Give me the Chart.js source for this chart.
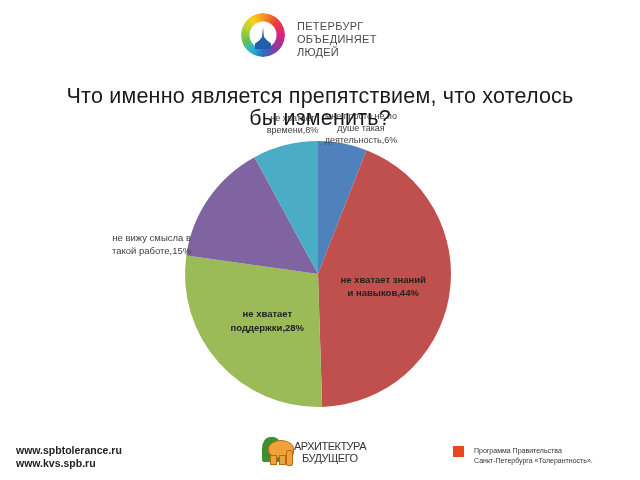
<!DOCTYPE html>
<html lang="ru">
<head>
<meta charset="UTF-8">
<title>Что именно является препятствием</title>
<script src="https://cdn.jsdelivr.net/npm/chart.js"></script>
<style>
  html, body { margin: 0; padding: 0; background: #fff; }
  body {
    width: 640px; height: 480px; position: relative; overflow: hidden;
    font-family: "Liberation Sans", Arial, sans-serif;
  }
  #wrap { position: absolute; left: 0; top: 0; width: 640px; height: 480px; }
  .title {
    position: absolute; left: 0; width: 640px; text-align: center;
    font-size: 21.5px; line-height: 21.5px; letter-spacing: 0.2px;
    color: #1a1a1a; white-space: nowrap; z-index: 2;
  }
  /* top logo */
  .ring {
    position: absolute; left: 241px; top: 13px; width: 44px; height: 44px; border-radius: 50%;
    background: conic-gradient(#f39a1f 0deg, #e8423a 45deg, #d8237e 90deg, #8a3aa0 135deg,
      #2a6fc4 180deg, #27b4d6 215deg, #6cc04a 255deg, #b9d433 295deg, #f7d21e 325deg, #f39a1f 360deg);
    -webkit-mask: radial-gradient(circle, transparent 0 13px, #000 14px 22px);
    mask: radial-gradient(circle, transparent 0 13px, #000 14px 22px);
  }
  .spire {
    position: absolute; left: 255px; top: 27px; width: 16px; height: 22px; background: #1e5fae;
    clip-path: polygon(50% 0, 56% 45%, 75% 60%, 100% 75%, 100% 100%, 0 100%, 0 75%, 25% 62%, 44% 45%);
  }
  .logo-text {
    position: absolute; left: 297px; top: 20px; font-size: 11px; line-height: 13px;
    color: #4a4a4a; letter-spacing: 0.3px;
  }
  /* footer */
  .sites {
    position: absolute; left: 16px; top: 444px; font-size: 10.5px; line-height: 13px;
    font-weight: bold; color: #222;
  }
  .bush {
    position: absolute; left: 262px; top: 437px; width: 19px; height: 25px;
    background: #3f8f2f; border-radius: 45% 40% 10% 10%;
  }
  .elephant {
    position: absolute; left: 268px; top: 440px; width: 24px; height: 16px;
    background: #f0a23a; border-radius: 50% 50% 30% 40%; border: 1px solid #b86a12;
  }
  .trunk {
    position: absolute; left: 286px; top: 450px; width: 5px; height: 14px;
    background: #f0a23a; border: 1px solid #b86a12; border-radius: 2px;
  }
  .leg1, .leg2 {
    position: absolute; top: 455px; width: 5px; height: 8px; background: #f0a23a;
    border: 1px solid #b86a12;
  }
  .leg1 { left: 270px; } .leg2 { left: 279px; }
  .arch {
    position: absolute; left: 294px; top: 441px; font-size: 11px; line-height: 11.5px;
    color: #333; letter-spacing: -0.5px;
  }
  .arch span { padding-left: 8px; }
  .flag {
    position: absolute; left: 453px; top: 446px; width: 11px; height: 11px; background: #e8461c;
  }
  .gov {
    position: absolute; left: 474px; top: 446px; font-size: 7px; line-height: 10px; color: #333;
  }
</style>
</head>
<body>
  <div id="wrap"><canvas id="pie"></canvas></div>

  <div class="ring"></div>
  <div class="spire"></div>
  <div class="logo-text">ПЕТЕРБУРГ<br>ОБЪЕДИНЯЕТ<br>ЛЮДЕЙ</div>

  <div class="title" style="top:86px">Что именно является препятствием, что хотелось</div>
  <div class="title" style="top:108px">бы изменить?</div>

  <div class="sites">www.spbtolerance.ru<br>www.kvs.spb.ru</div>

  <div class="bush"></div>
  <div class="elephant"></div>
  <div class="trunk"></div>
  <div class="leg1"></div>
  <div class="leg2"></div>
  <div class="arch">АРХИТЕКТУРА<br><span>БУДУЩЕГО</span></div>

  <div class="flag"></div>
  <div class="gov">Программа Правительства<br>Санкт-Петербурга «Толерантность».</div>

  <script>
    // data, clockwise from 12 o'clock
    const categories = [
      ['мне просто не по', 'душе такая', 'деятельность'],
      ['не хватает знаний', 'и навыков'],
      ['не хватает', 'поддержки'],
      ['не вижу смысла в', 'такой работе'],
      ['не хватает', 'времени']
    ];
    const values = [6, 44, 28, 15, 8];
    const colors = ['#4f81bd', '#c0504d', '#9bbb59', '#8064a2', '#4bacc6'];

    // where each label sits: fraction along the slice, fraction of the radius
    const labelStyle = [
      { along: 0.77, dist: 1.14, font: '9px "Liberation Sans", Arial', color: '#404040', lh: 12 },
      { along: 0.51, dist: 0.50, font: 'bold 9.5px "Liberation Sans", Arial', color: '#222', lh: 13 },
      { along: 0.49, dist: 0.52, font: 'bold 9.5px "Liberation Sans", Arial', color: '#222', lh: 14 },
      { along: 0.035, dist: 1.27, font: '9.5px "Liberation Sans", Arial', color: '#404040', lh: 13 },
      { along: 0.66, dist: 1.14, font: '9px "Liberation Sans", Arial', color: '#404040', lh: 12 }
    ];

    const sliceLabels = {
      id: 'sliceLabels',
      afterDatasetsDraw(chart) {
        const ctx = chart.ctx;
        const meta = chart.getDatasetMeta(0);
        meta.data.forEach((arc, i) => {
          const p = arc.getProps(['x', 'y', 'startAngle', 'endAngle', 'outerRadius'], true);
          const st = labelStyle[i];
          const a = p.startAngle + st.along * (p.endAngle - p.startAngle);
          const r = p.outerRadius * st.dist;
          const cx = p.x + Math.cos(a) * r;
          const cy = p.y + Math.sin(a) * r;
          const lines = categories[i].slice();
          lines[lines.length - 1] += ',' + values[i] + '%';
          ctx.save();
          ctx.font = st.font;
          ctx.fillStyle = st.color;
          ctx.textAlign = 'center';
          ctx.textBaseline = 'middle';
          lines.forEach((t, k) => {
            ctx.fillText(t, cx, cy + (k - (lines.length - 1) / 2) * st.lh);
          });
          ctx.restore();
        });
      }
    };

    new Chart(document.getElementById('pie'), {
      type: 'pie',
      data: {
        labels: categories.map(c => c.join(' ')),
        datasets: [{
          data: values,
          backgroundColor: colors,
          borderWidth: 0
        }]
      },
      options: {
        responsive: true,
        maintainAspectRatio: false,
        animation: false,
        layout: { padding: { left: 185, right: 189, top: 141, bottom: 73 } },
        plugins: {
          legend: { display: false },
          tooltip: { enabled: false },
          title: { display: false }
        }
      },
      plugins: [sliceLabels]
    });
  </script>
</body>
</html>
